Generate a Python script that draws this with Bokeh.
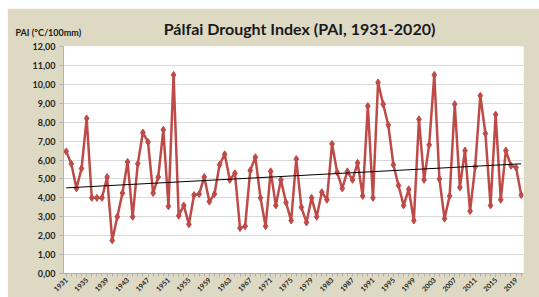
import numpy as np
from bokeh.plotting import figure
from bokeh.models import FixedTicker, Range1d, Label
from bokeh.embed import file_html
from bokeh.resources import INLINE

years = list(range(1931, 2021))
pai = [6.45, 5.8, 4.5, 5.55, 8.2, 4.0, 4.0, 4.0, 5.1, 1.75,
       3.0, 4.25, 5.9, 3.0, 5.8, 7.45, 6.95, 4.25, 5.1, 7.6,
       3.55, 10.5, 3.05, 3.6, 2.6, 4.15, 4.2, 5.1, 3.8, 4.2,
       5.75, 6.3, 4.95, 5.3, 2.4, 2.5, 5.45, 6.15, 4.0, 2.5,
       5.4, 3.6, 4.95, 3.75, 2.8, 6.05, 3.5, 2.7, 4.0, 3.0,
       4.3, 3.9, 6.85, 5.35, 4.5, 5.4, 4.95, 5.85, 4.1, 8.85,
       4.0, 10.1, 8.95, 7.85, 5.75, 4.65, 3.6, 4.45, 2.8, 8.15,
       4.95, 6.8, 10.5, 5.0, 2.9, 4.1, 8.95, 4.55, 6.5, 3.3,
       5.65, 9.4, 7.4, 3.6, 8.4, 3.9, 6.5, 5.7, 5.6, 4.15]
x_tick_years = list(range(1931, 2021, 4))
y_ticks = list(range(0, 13))
y_tick_labels = {t: f"{t},00" for t in y_ticks}
title_text = "Pálfai Drought Index (PAI, 1931-2020)"
ylabel_text = "PAI (°C/100mm)"

# linear trend (least squares) as in the spreadsheet trendline
coef = np.polyfit(years, pai, 1)
trend_x = [years[0], years[-1]]
trend_y = [float(np.polyval(coef, years[0])), float(np.polyval(coef, years[-1]))]

BG = "#ddd9c3"
RED = "#be4b48"
FONT = "Lato"

p = figure(width=532, height=289, output_backend="svg", toolbar_location=None,
           x_range=Range1d(1930.47, 2020.45), y_range=Range1d(0, 12),
           min_border_left=56, min_border_right=16, min_border_top=38, min_border_bottom=24)
p.margin = (8, 0, 0, 7)
p.border_fill_color = BG
p.background_fill_color = "white"
p.outline_line_color = None

p.xgrid.grid_line_color = None
p.ygrid.grid_line_color = "#d9d9d9"
p.ygrid.grid_line_width = 1
p.ygrid.ticker = FixedTicker(ticks=y_ticks)

p.yaxis.ticker = FixedTicker(ticks=y_ticks)
p.yaxis.major_label_overrides = y_tick_labels
p.yaxis.major_label_text_font = FONT
p.yaxis.major_label_text_font_style = "bold"
p.yaxis.major_label_text_font_size = "9px"
p.yaxis.major_label_text_color = "#262626"
p.yaxis.major_tick_in = 0
p.yaxis.major_tick_out = 4
p.yaxis.minor_tick_line_color = None
p.yaxis.axis_line_color = "#b0b0b0"
p.yaxis.major_tick_line_color = "#b0b0b0"
p.yaxis.major_label_standoff = 4

p.xaxis.ticker = FixedTicker(ticks=x_tick_years, minor_ticks=years)
p.xaxis.major_label_orientation = np.pi / 4
p.xaxis.major_label_text_font = FONT
p.xaxis.major_label_text_font_style = "bold"
p.xaxis.major_label_text_font_size = "7px"
p.xaxis.major_label_text_color = "#262626"
p.xaxis.major_tick_in = 0
p.xaxis.major_tick_out = 3
p.xaxis.minor_tick_in = 0
p.xaxis.minor_tick_out = 3
p.xaxis.axis_line_color = "#b0b0b0"
p.xaxis.major_tick_line_color = "#b0b0b0"
p.xaxis.minor_tick_line_color = "#b0b0b0"
p.xaxis.major_label_standoff = 2

p.line(years, pai, line_color=RED, line_width=2.5)
p.scatter(years, pai, marker="diamond", size=7, fill_color=RED, line_color=RED)
p.line(trend_x, trend_y, line_color="black", line_width=1)

# texts placed in the top border panel (not clipped by the frame)
p.add_layout(Label(x=-48, y=14.5, x_units="screen", y_units="screen", text=ylabel_text,
                   text_align="left", text_baseline="middle", text_font=FONT,
                   text_font_style="bold", text_font_size="9px", text_color="#1a1a1a"), "above")
p.add_layout(Label(x=236, y=7, x_units="screen", y_units="screen", text=title_text,
                   text_align="center", text_baseline="middle", text_font=FONT,
                   text_font_style="bold", text_font_size="16px", text_color="#1a1a1a"), "above")

open("out.html", "w").write(file_html(p, INLINE))
